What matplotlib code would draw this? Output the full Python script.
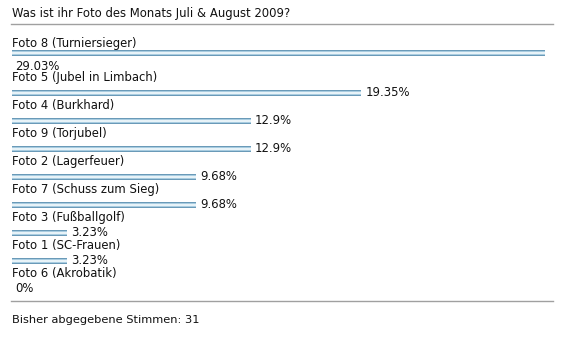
import numpy as np
import matplotlib
matplotlib.use("Agg")
import matplotlib.pyplot as plt

title = "Was ist ihr Foto des Monats Juli & August 2009?"
labels = ["Foto 8 (Turniersieger)", "Foto 5 (Jubel in Limbach)", "Foto 4 (Burkhard)",
          "Foto 9 (Torjubel)", "Foto 2 (Lagerfeuer)", "Foto 7 (Schuss zum Sieg)",
          "Foto 3 (Fußballgolf)", "Foto 1 (SC-Frauen)", "Foto 6 (Akrobatik)"]
percents = [29.03, 19.35, 12.9, 12.9, 9.68, 9.68, 3.23, 3.23, 0.0]
pct_text = ["29.03%", "19.35%", "12.9%", "12.9%", "9.68%", "9.68%", "3.23%", "3.23%", "0%"]
footer = "Bisher abgegebene Stimmen: 31"

W, H = 563, 338
left = 12          # px
full = 533         # px for the largest bar
vmax = round(max(percents))
ppu = full / vmax  # px per percent

def px(x):
    return (x - left) / ppu

fig = plt.figure(figsize=(W / 100, H / 100), dpi=100)
ax = fig.add_axes([0, 0, 1, 1])
ax.set_xlim(px(0), px(W))
ax.set_ylim(H, 0)
ax.axis("off")

fs = 8.4
tc = "#111111"
ax.text(0, 14, title, fontsize=fs, color=tc, va="center", ha="left")
ax.plot([px(11), px(553)], [24, 24], color="#a0a0a0", lw=1)

y = 44
for lab, v, t in zip(labels, percents, pct_text):
    ax.text(0, y, lab, fontsize=fs, color=tc, va="center", ha="left")
    w = round(v)
    if v == 0:
        ax.text(px(15), y + 14, t, fontsize=fs, color=tc, va="center", ha="left")
        y += 28
        continue
    if v == max(percents):
        by = y + 9
        ax.text(px(15), y + 22, t, fontsize=fs, color=tc, va="center", ha="left")
        step = 34
    else:
        by = y + 15
        ax.text(w + px(left + 4), by, t, fontsize=fs, color=tc, va="center", ha="left")
        step = 28
    ax.barh(by, w, height=6.5, left=0, color="#6a9ab8", lw=0)
    ax.barh(by, w, height=4.5, left=0, color="#a8cce0", lw=0)
    ax.barh(by, w, height=1.5, left=0, color="#e8f3f8", lw=0)
    y += step

ax.plot([px(11), px(553)], [301, 301], color="#a0a0a0", lw=1)
ax.text(0, 320, footer, fontsize=8.2, color=tc, va="center", ha="left")

fig.savefig("out.png", dpi=100, facecolor="white")
